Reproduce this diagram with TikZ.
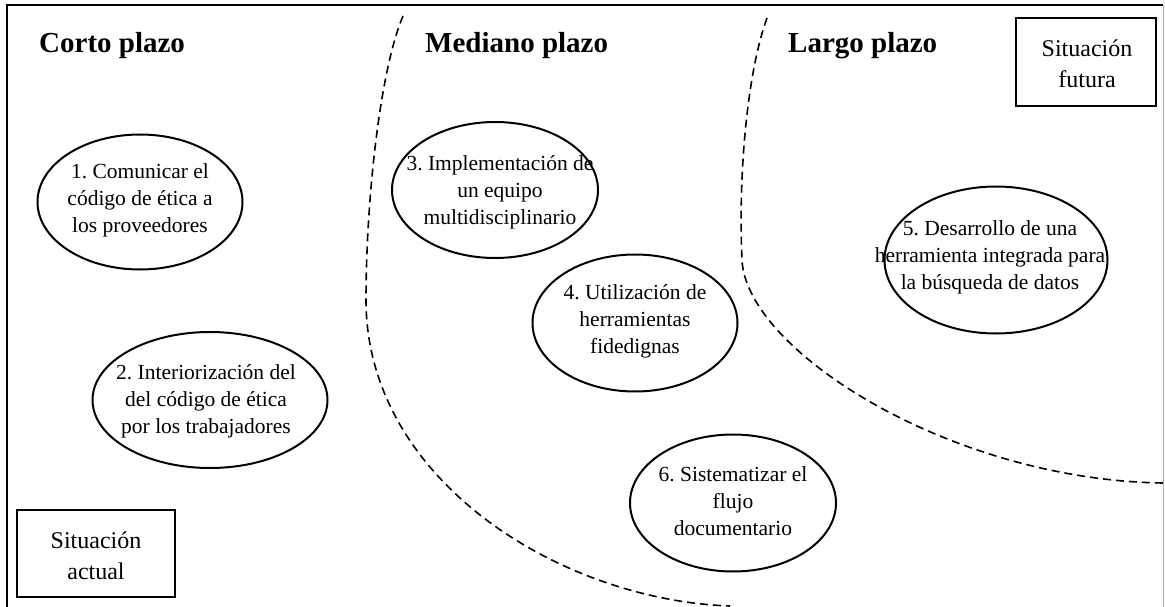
\documentclass[tikz,border=0pt]{standalone}
\usepackage{fontspec}
\setmainfont{Liberation Serif}
\usetikzlibrary{shapes.geometric}
\frenchspacing
\tikzset{
  oval/.style={ellipse, draw, line width=2pt, inner sep=0pt},
  txt/.style={align=center, font=\fontsize{21.5}{27}\selectfont, inner sep=0pt},
  head/.style={anchor=base west, font=\fontsize{29}{34}\selectfont\bfseries, inner sep=0pt},
  sitbox/.style={draw, line width=1.4pt, inner sep=0pt},
  sittxt/.style={align=center, font=\fontsize{24}{31}\selectfont, inner sep=0pt},
  bound/.style={line width=1.6pt, dash pattern=on 8pt off 5pt},
}
\begin{document}
\begin{tikzpicture}[x=1pt,y=-1pt]
\useasboundingbox (0,0) rectangle (1165,607);
% frame
\draw[line width=1.6pt] (7,607) -- (7,5) -- (1163,5);
\draw[gray!60, line width=1pt] (1163,5) -- (1163,607);
% headings
\node[head] (hc) at (39,53) {Corto plazo};
\node[head] (hm) at (425,53) {Mediano plazo};
\node[head] (hl) at (788,53) {Largo plazo};
% dashed boundaries
\draw[bound] (403,16) .. controls (380,70) and (366,200) .. (366,300)
  .. controls (366,480) and (560,600) .. (730,606);
\draw[bound] (767,18) .. controls (748,70) and (738,170) .. (742,260)
  .. controls (746,350) and (950,480) .. (1163,483);
% boxes
\node[sitbox, minimum width=140pt, minimum height=88pt] (bf) at (1086,62) {};
\node[sittxt] (bft) at (1087,64) {Situación\\futura};
\node[sitbox, minimum width=158pt, minimum height=87pt] (ba) at (96,553.5) {};
\node[sittxt] (bat) at (96,556) {Situación\\actual};
% ellipses
\node[oval, minimum width=205pt, minimum height=135pt] (e1) at (140,202) {};
\node[txt] (t1) at (140,200) {1. Comunicar el\\código de ética a\\los proveedores};
\node[oval, minimum width=235pt, minimum height=136pt] (e2) at (210,400) {};
\node[txt] (t2) at (206,401) {2. Interiorización del\\del código de ética\\por los trabajadores};
\node[oval, minimum width=206pt, minimum height=136pt] (e3) at (495,190) {};
\node[txt] (t3) at (500,192) {3. Implementación de\\un equipo\\multidisciplinario};
\node[oval, minimum width=205pt, minimum height=137pt] (e4) at (635,323) {};
\node[txt] (t4) at (635,321) {4. Utilización de\\herramientas\\fidedignas};
\node[oval, minimum width=223pt, minimum height=147pt] (e5) at (996,260) {};
\node[txt] (t5) at (990,257) {5. Desarrollo de una\\herramienta integrada para\\la búsqueda de datos};
\node[oval, minimum width=206pt, minimum height=137pt] (e6) at (733,503) {};
\node[txt] (t6) at (733,501) {6. Sistematizar el\\flujo\\documentario};
\end{tikzpicture}
\end{document}
